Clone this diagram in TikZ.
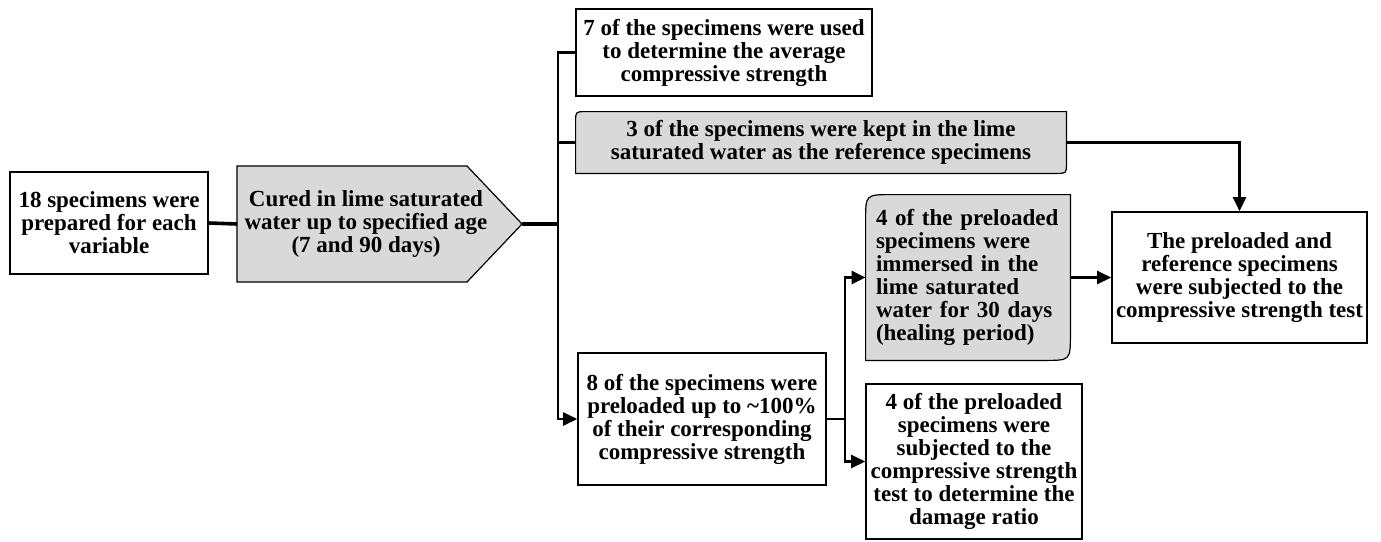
\documentclass[tikz,border=0pt]{standalone}
\usepackage{fontspec}
\setmainfont{Liberation Serif}
\usetikzlibrary{arrows.meta,backgrounds}
\definecolor{boxgray}{RGB}{217,217,217}
\tikzset{
  txt/.style={align=center,inner sep=0pt,font=\fontsize{11.5pt}{11.5pt}\selectfont\bfseries},
  box/.style={txt,draw,line width=0.8pt,fill=white},
  conn/.style={line width=1.2pt},
  arr/.style={conn,-{Triangle[length=7pt,width=6.5pt]}}
}

\begin{document}
\begin{tikzpicture}[x=0.5pt,y=-0.5pt]
\useasboundingbox (0,0) rectangle (1381,541);
\node[box,minimum width=99pt,minimum height=51pt] (prep) at (109,223) {18 specimens were\\prepared for each\\variable};
\node[txt] (cure) at (366,224) {Cured in lime saturated\\water up to specified age\\(7 and 90 days)};
\coordinate (curein) at (237,224);
\coordinate (curetip) at (522,224);
\coordinate (trunk) at (558,0);
\coordinate (branch) at (845,0);
\node[box,minimum width=148pt,minimum height=43.5pt] (avg) at (724,52.5) {7 of the specimens were used\\to determine the average\\compressive strength};
\node[txt,minimum width=245pt,minimum height=30.5pt] (ref) at (821,142.5) {3 of the specimens were kept in the lime\\saturated water as the reference specimens};
\node[box,minimum width=124pt,minimum height=66pt] (pre) at (702,419) {8 of the specimens were\\preloaded up to \char`~100\%\\of their corresponding\\compressive strength};
\node[txt,text width=92pt,align=left,minimum width=102pt,minimum height=82.5pt] (heal) at (968,277.5) {4 of the preloaded\\specimens were\\immersed in the\\lime saturated\\water for 30 days\\(healing period)};
\node[box,minimum width=108pt,minimum height=77.5pt] (dmg) at (974,461.5) {4 of the preloaded\\specimens were\\subjected to the\\compressive strength\\test to determine the\\damage ratio};
\node[box,minimum width=127.5pt,minimum height=65.5pt] (final) at (1239.5,277.5) {The preloaded and\\reference specimens\\were subjected to the\\compressive strength test};
\begin{scope}[on background layer]
\draw[line width=0.6pt,fill=boxgray] (curein |- 0,166) -- (467,166) -- (curetip) -- (467,282) -- (curein |- 0,282) -- cycle;
\draw[line width=0.6pt,fill=boxgray] (ref.south west) -- ([yshift=-5pt]ref.north west) .. controls (ref.north west) .. ([xshift=5pt]ref.north west) -- (ref.north east) -- ([yshift=5pt]ref.south east) .. controls (ref.south east) .. ([xshift=-5pt]ref.south east) -- cycle;
\draw[line width=0.6pt,fill=boxgray] (heal.south west) -- ([yshift=-13pt]heal.north west) .. controls (heal.north west) .. ([xshift=13pt]heal.north west) -- (heal.north east) -- ([yshift=13pt]heal.south east) .. controls (heal.south east) .. ([xshift=-13pt]heal.south east) -- cycle;
\end{scope}
\draw[line width=1.8pt] (prep.east) -- (curein);
\draw[line width=1.8pt] (curetip) -- (curetip -| trunk);
\draw[arr] (avg.west) -- (avg.west -| trunk) |- (pre.west);
\draw[conn] (ref.west) -- (ref.west -| trunk);
\draw[arr] (ref.east) -| (final.north);
\draw[conn] (pre.east) -- (pre.east -| branch);
\draw[arr] (pre.east -| branch) |- (heal.west);
\draw[arr] (pre.east -| branch) |- (dmg.west);
\draw[arr] (heal.east) -- (final.west);
\end{tikzpicture}
\end{document}
